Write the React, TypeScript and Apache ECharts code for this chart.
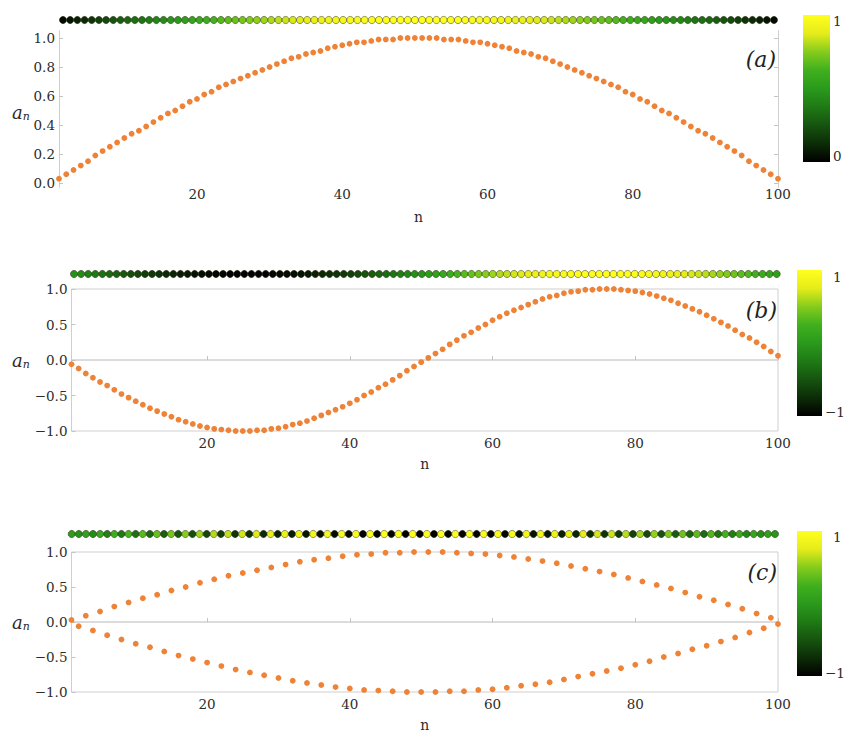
import React, { useEffect, useRef } from 'react';
import * as echarts from 'echarts';

// ---------- data ----------
const N_VALUES: number[] = Array.from({ length: 100 }, (_, i) => i + 1);

const A_VALUES: number[] = [
  0.03, 0.06, 0.09, 0.12, 0.15, 0.19, 0.22, 0.25, 0.28, 0.31,
  0.34, 0.36, 0.39, 0.42, 0.45, 0.48, 0.50, 0.53, 0.56, 0.58,
  0.61, 0.63, 0.66, 0.68, 0.70, 0.72, 0.74, 0.76, 0.78, 0.80,
  0.82, 0.84, 0.86, 0.87, 0.89, 0.90, 0.91, 0.93, 0.94, 0.95,
  0.96, 0.97, 0.97, 0.98, 0.99, 0.99, 0.99, 1.00, 1.00, 1.00,
  1.00, 1.00, 1.00, 0.99, 0.99, 0.99, 0.98, 0.97, 0.97, 0.96,
  0.95, 0.94, 0.93, 0.91, 0.90, 0.89, 0.87, 0.86, 0.84, 0.82,
  0.80, 0.78, 0.76, 0.74, 0.72, 0.70, 0.68, 0.66, 0.63, 0.61,
  0.58, 0.56, 0.53, 0.50, 0.48, 0.45, 0.42, 0.39, 0.36, 0.34,
  0.31, 0.28, 0.25, 0.22, 0.19, 0.15, 0.12, 0.09, 0.06, 0.03,
];

const B_VALUES: number[] = [
  -0.06, -0.12, -0.19, -0.25, -0.31, -0.36, -0.42, -0.48, -0.53, -0.58,
  -0.63, -0.68, -0.72, -0.76, -0.80, -0.84, -0.87, -0.90, -0.93, -0.95,
  -0.97, -0.98, -0.99, -1.00, -1.00, -1.00, -0.99, -0.99, -0.97, -0.96,
  -0.94, -0.91, -0.89, -0.86, -0.82, -0.78, -0.74, -0.70, -0.66, -0.61,
  -0.56, -0.50, -0.45, -0.39, -0.34, -0.28, -0.22, -0.15, -0.09, -0.03,
  0.03, 0.09, 0.15, 0.22, 0.28, 0.34, 0.39, 0.45, 0.50, 0.56,
  0.61, 0.66, 0.70, 0.74, 0.78, 0.82, 0.86, 0.89, 0.91, 0.94,
  0.96, 0.97, 0.99, 0.99, 1.00, 1.00, 1.00, 0.99, 0.98, 0.97,
  0.95, 0.93, 0.90, 0.87, 0.84, 0.80, 0.76, 0.72, 0.68, 0.63,
  0.58, 0.53, 0.48, 0.42, 0.36, 0.31, 0.25, 0.19, 0.12, 0.06,
];

const C_VALUES: number[] = [
  0.03, -0.06, 0.09, -0.12, 0.15, -0.19, 0.22, -0.25, 0.28, -0.31,
  0.34, -0.36, 0.39, -0.42, 0.45, -0.48, 0.50, -0.53, 0.56, -0.58,
  0.61, -0.63, 0.66, -0.68, 0.70, -0.72, 0.74, -0.76, 0.78, -0.80,
  0.82, -0.84, 0.86, -0.87, 0.89, -0.90, 0.91, -0.93, 0.94, -0.95,
  0.96, -0.97, 0.97, -0.98, 0.99, -0.99, 0.99, -1.00, 1.00, -1.00,
  1.00, -1.00, 1.00, -0.99, 0.99, -0.99, 0.98, -0.97, 0.97, -0.96,
  0.95, -0.94, 0.93, -0.91, 0.90, -0.89, 0.87, -0.86, 0.84, -0.82,
  0.80, -0.78, 0.76, -0.74, 0.72, -0.70, 0.68, -0.66, 0.63, -0.61,
  0.58, -0.56, 0.53, -0.50, 0.48, -0.45, 0.42, -0.39, 0.36, -0.34,
  0.31, -0.28, 0.25, -0.22, 0.19, -0.15, 0.12, -0.09, 0.06, -0.03,
];

const X_TICKS: number[] = [20, 40, 60, 80, 100];
const Y_TICKS_A: number[] = [0, 0.2, 0.4, 0.6, 0.8, 1.0];
const Y_TICKS_BC: number[] = [-1, -0.5, 0, 0.5, 1];
const PANEL_TAGS: string[] = ['(a)', '(b)', '(c)'];
const COLORBAR_LABELS: string[][] = [['1', '0'], ['1', '\u22121'], ['1', '\u22121']];
const COLORBAR_RANGES: number[][] = [[0, 1], [-1, 1], [-1, 1]];

// black -> green -> yellow colour scale (low -> high)
const CMAP: string[] = [
  '#000000', '#0c2c07', '#16540f', '#1f7a15', '#2a9a1c',
  '#40b01e', '#86cc1c', '#e6ec1a', '#ffff1e',
];

// ---------- styles ----------
const FONT = "'DejaVu Serif', serif";
const ORANGE = '#ee8236';
const FRAME = '#cfcfcf';
const TICK = '#c4c4c4';
const TXT = '#2c2c2c';

function fmt(v: number): string {
  const s = Math.abs(v).toFixed(1);
  return v < -1e-9 ? '\u2212' + s : s;
}

const PANELS = [
  {
    values: A_VALUES,
    main: { left: 59, top: 30.75, width: 719, height: 156.6 },
    ymin: -0.03, ymax: 1.05, yTicks: Y_TICKS_A,
    dots: { left: 63, top: 15, width: 711 },
    xMargin: 0, nameGap: 23, border: false, zero: false,
    cb: { x: 803, y: 15, w: 27, h: 147 },
    cbLab: [{ x: 833, y: 21 }, { x: 833, y: 156 }],
    tag: { x: 776, y: 59 }, an: { x: 12, y: 112 },
  },
  {
    values: B_VALUES,
    main: { left: 71.5, top: 289, width: 706.5, height: 142 },
    ymin: -1, ymax: 1, yTicks: Y_TICKS_BC,
    dots: { left: 74, top: 269, width: 702.7 },
    xMargin: 5, nameGap: 26, border: true, zero: true,
    cb: { x: 797, y: 270, w: 25, h: 146 },
    cbLab: [{ x: 833, y: 277 }, { x: 825, y: 412 }],
    tag: { x: 777, y: 310 }, an: { x: 12, y: 360 },
  },
  {
    values: C_VALUES,
    main: { left: 71.5, top: 552, width: 706.5, height: 141 },
    ymin: -1, ymax: 1, yTicks: Y_TICKS_BC,
    dots: { left: 71.7, top: 529, width: 703.3 },
    xMargin: 5, nameGap: 26, border: true, zero: true,
    cb: { x: 797, y: 531, w: 25, h: 145 },
    cbLab: [{ x: 833, y: 537 }, { x: 825, y: 673 }],
    tag: { x: 777, y: 572 }, an: { x: 12, y: 622 },
  },
];

function buildOption() {
  const grid: any[] = [];
  const xAxis: any[] = [];
  const yAxis: any[] = [];
  const series: any[] = [];
  const visualMap: any[] = [];
  const graphic: any[] = [];

  PANELS.forEach((p, k) => {
    const gMain = grid.length;
    grid.push({
      ...p.main,
      show: p.border,
      borderColor: FRAME,
      borderWidth: 1,
      backgroundColor: 'transparent',
      containLabel: false,
    });
    const gDots = grid.length;
    grid.push({ left: p.dots.left, top: p.dots.top, width: p.dots.width, height: 10, show: false });

    const xMain = xAxis.length;
    xAxis.push({
      gridIndex: gMain,
      type: 'value',
      min: 1,
      max: 100,
      position: 'bottom',
      splitLine: { show: false },
      axisLine: { show: false },
      axisTick: {
        show: p.border,
        inside: true,
        length: 4,
        lineStyle: { color: TICK },
        customValues: X_TICKS,
      },
      axisLabel: {
        customValues: X_TICKS,
        margin: p.xMargin,
        fontFamily: FONT,
        fontSize: 13.5,
        color: TXT,
      },
      name: 'n',
      nameLocation: 'middle',
      nameGap: p.nameGap,
      nameTextStyle: { fontFamily: FONT, fontSize: 14, color: TXT },
    });
    const xDots = xAxis.length;
    xAxis.push({ gridIndex: gDots, type: 'value', min: 1, max: 100, show: false });

    const yMain = yAxis.length;
    yAxis.push({
      gridIndex: gMain,
      type: 'value',
      min: p.ymin,
      max: p.ymax,
      position: 'left',
      splitLine: { show: false },
      axisLine: { show: !p.border, lineStyle: { color: FRAME } },
      axisTick: {
        show: true,
        inside: true,
        length: 4,
        lineStyle: { color: TICK },
        customValues: p.yTicks,
      },
      axisLabel: {
        customValues: p.yTicks,
        formatter: (v: number) => fmt(v),
        margin: 4,
        fontFamily: FONT,
        fontSize: 13.5,
        color: TXT,
      },
    });
    const yDots = yAxis.length;
    yAxis.push({ gridIndex: gDots, type: 'value', min: -1, max: 1, show: false });
    if (!p.border) {
      yAxis.push({
        gridIndex: gMain,
        type: 'value',
        min: p.ymin,
        max: p.ymax,
        position: 'right',
        splitLine: { show: false },
        axisLine: { show: true, lineStyle: { color: FRAME } },
        axisTick: {
          show: true,
          inside: true,
          length: 4,
          lineStyle: { color: TICK },
          customValues: p.yTicks,
        },
        axisLabel: { show: false },
      });
    }

    if (p.zero) {
      series.push({
        type: 'line',
        xAxisIndex: xMain,
        yAxisIndex: yMain,
        data: [[N_VALUES[0], 0], [N_VALUES[N_VALUES.length - 1], 0]],
        symbol: 'none',
        lineStyle: { color: '#b8b8b8', width: 1 },
        z: 1,
        silent: true,
      });
    }

    series.push({
      type: 'scatter',
      xAxisIndex: xMain,
      yAxisIndex: yMain,
      data: N_VALUES.map((n, i) => [n, p.values[i]]),
      symbolSize: 5.8,
      itemStyle: { color: ORANGE, opacity: 1 },
      z: 3,
      silent: true,
    });

    const dotSeries = series.length;
    series.push({
      type: 'scatter',
      xAxisIndex: xDots,
      yAxisIndex: yDots,
      data: N_VALUES.map((n, i) => [n, 0, p.values[i]]),
      symbolSize: 7.2,
      itemStyle: { borderColor: 'rgba(25,25,0,0.55)', borderWidth: 0.8, opacity: 1 },
      silent: true,
    });

    const [lo, hi] = COLORBAR_RANGES[k];
    visualMap.push({
      type: 'continuous',
      show: false,
      min: lo,
      max: hi,
      dimension: 2,
      seriesIndex: dotSeries,
      inRange: { color: CMAP },
    });

    // colour bar
    graphic.push({
      type: 'rect',
      shape: { x: p.cb.x, y: p.cb.y, width: p.cb.w, height: p.cb.h },
      style: {
        fill: {
          type: 'linear',
          x: 0, y: 0, x2: 0, y2: 1,
          colorStops: CMAP.map((_, i) => ({
            offset: i / (CMAP.length - 1),
            color: CMAP[CMAP.length - 1 - i],
          })),
        },
      },
      silent: true,
    });
    COLORBAR_LABELS[k].forEach((t, j) => {
      graphic.push({
        type: 'text',
        x: p.cbLab[j].x,
        y: p.cbLab[j].y,
        style: {
          text: t,
          fontFamily: FONT,
          fontSize: 13.5,
          fill: TXT,
          align: 'left',
          verticalAlign: 'middle',
        },
        silent: true,
      });
    });

    // panel tag
    graphic.push({
      type: 'text',
      x: p.tag.x,
      y: p.tag.y,
      style: {
        text: PANEL_TAGS[k],
        fontFamily: FONT,
        fontStyle: 'italic',
        fontSize: 22,
        fill: '#222',
        align: 'right',
        verticalAlign: 'middle',
      },
      silent: true,
    });

    // a_n axis title
    graphic.push({
      type: 'text',
      x: p.an.x,
      y: p.an.y,
      style: {
        text: '{a|a}{s|n}',
        align: 'left',
        verticalAlign: 'middle',
        rich: {
          a: { fontFamily: FONT, fontStyle: 'italic', fontSize: 18, fill: TXT },
          s: { fontFamily: FONT, fontStyle: 'italic', fontSize: 11, fill: TXT, padding: [9, 0, 0, 0] },
        },
      },
      silent: true,
    });
  });

  return {
    animation: false,
    backgroundColor: '#ffffff',
    grid,
    xAxis,
    yAxis,
    series,
    visualMap,
    graphic,
  };
}

export default function App() {
  const ref = useRef<HTMLDivElement>(null);
  useEffect(() => {
    if (!ref.current) return;
    const chart = echarts.init(ref.current, undefined, { renderer: 'svg' });
    chart.setOption(buildOption() as any);
    return () => chart.dispose();
  }, []);
  return (
    <div
      ref={ref}
      style={{ position: 'fixed', left: 0, top: 0, width: 845, height: 733, background: '#fff' }}
    />
  );
}
